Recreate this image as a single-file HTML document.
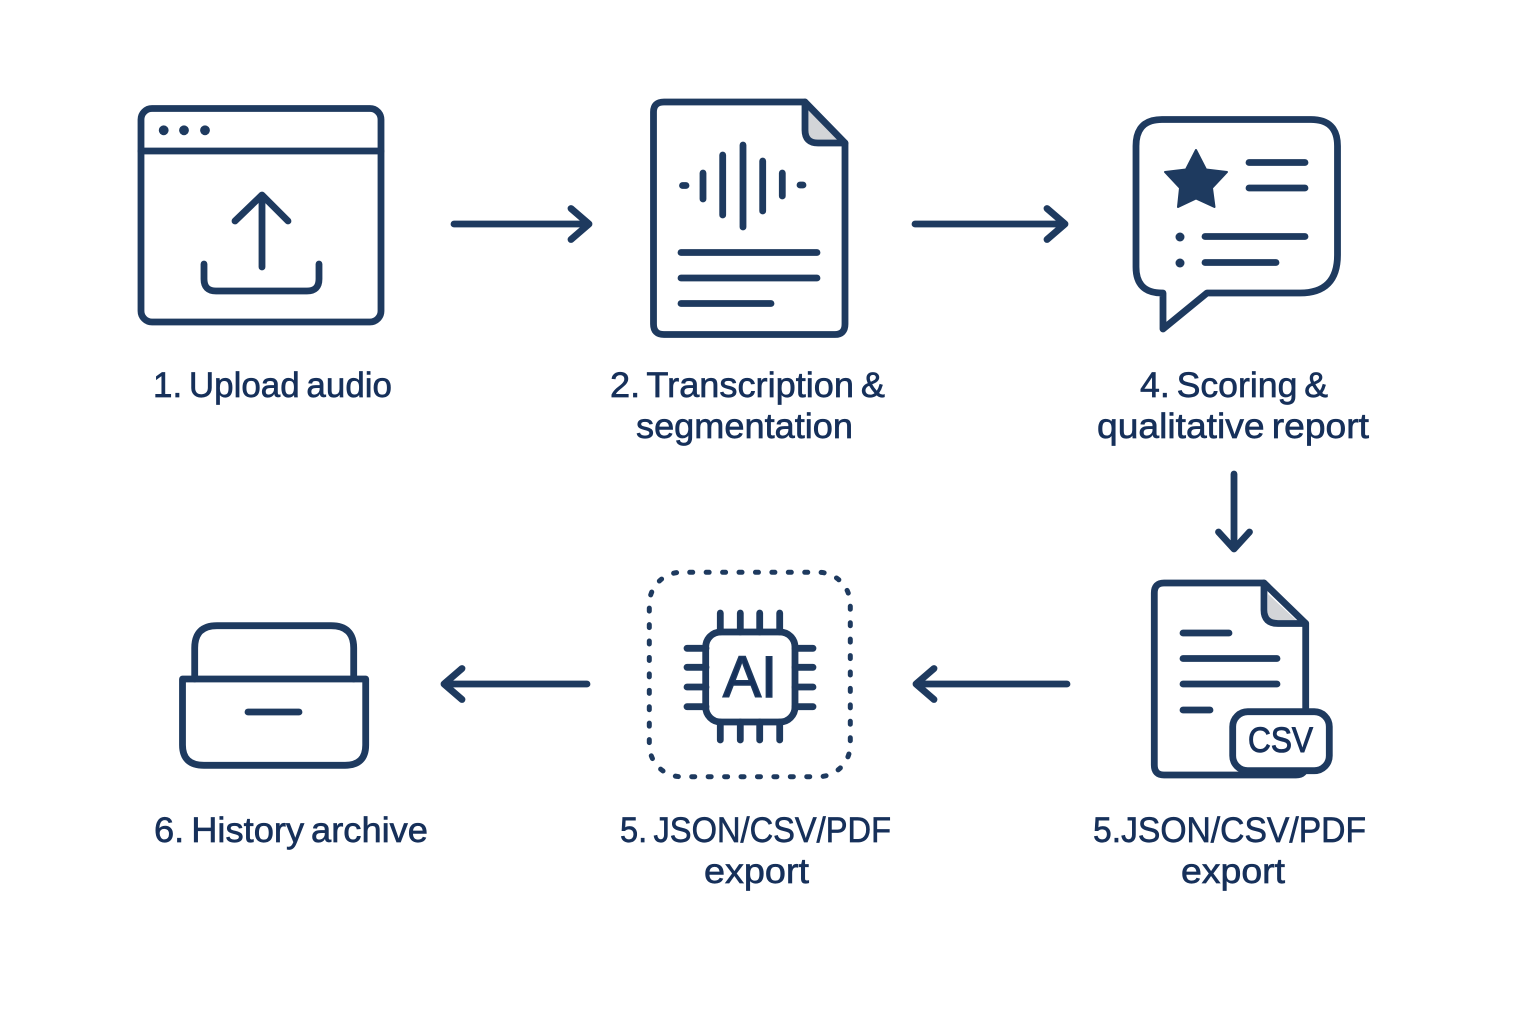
<!DOCTYPE html>
<html><head><meta charset="utf-8"><style>
html,body{margin:0;padding:0;background:#fff}
svg{display:block}
text{font-family:"Liberation Sans",sans-serif;fill:#16305a}
.t{font-size:35px;word-spacing:-3px;stroke:#16305a;stroke-width:.65px}
.s{fill:none;stroke:#1e3a5f;stroke-width:6.8;stroke-linecap:round;stroke-linejoin:round}
</style></head><body>
<svg width="1536" height="1024" viewBox="0 0 1536 1024" xmlns="http://www.w3.org/2000/svg">
<rect width="1536" height="1024" fill="#fff"/>
<!-- upload -->
<g class="s">
<rect x="141" y="108.500" width="240" height="213.500" rx="11"/>
<path d="M141 151H381"/>
<path d="M262 267V195M235 221L262 195L288 221"/>
<path d="M204 264V279Q204 291 216 291H307Q319 291 319 279V264"/>
</g>
<g fill="#1e3a5f"><circle cx="163.700" cy="130.300" r="4.900"/><circle cx="184" cy="130.300" r="4.900"/><circle cx="205" cy="130.300" r="4.900"/></g>
<!-- transcription doc -->
<path d="M808 108L840 142H812Q808 142 808 138Z" fill="#d3d5d8"/>
<g class="s">
<path d="M805 102H664Q653.500 102 653.500 112V324Q653.500 334.500 664 334.500H835Q845 334.500 845 324V143Z"/>
<path d="M805 102V130Q805 143 818 143H845"/>
<path d="M682.500 185.500H686M703 173V199M722.700 155V215M743 145V227M762.700 161V211M782.300 173V196M800 185H803"/>
<path d="M681 252.500H817M681 278H817M681 303.500H771"/>
</g>
<!-- report bubble -->
<g class="s">
<path d="M1163 293H1162Q1136 293 1136 267V146Q1136 119.500 1162 119.500H1311Q1337.500 119.500 1337.500 146V255Q1337.500 293 1300 293H1207L1163 329Z"/>
<path d="M1249 162.500H1305M1249 188H1305M1205 236.500H1305M1205 262.500H1276"/>
</g>
<path d="M1196 150L1206 169.500L1227 172L1212 188L1214.500 207L1196 198.500L1178 207L1180 188L1165 172L1186 169.500Z" fill="#1e3a5f" stroke="#1e3a5f" stroke-width="2" stroke-linejoin="round"/>
<g fill="#1e3a5f"><circle cx="1180" cy="237" r="4.500"/><circle cx="1180" cy="263" r="4.500"/></g>
<!-- CSV doc -->
<path d="M1268 594L1296 620H1273Q1268 620 1268 615Z" fill="#d3d5d8"/>
<g class="s">
<path d="M1264 583H1164Q1154.300 583 1154.300 593V765Q1154.300 775 1164 775H1296Q1305.700 775 1305.700 765V623.500Z"/>
<path d="M1264 583V610Q1264 623.500 1278 623.500H1305.700"/>
<path d="M1183 633H1229M1183 658.500H1277M1183 684H1277M1183 710H1210"/>
<rect x="1232.700" y="711.700" width="96.600" height="59" rx="15" fill="#fff"/>
</g>
<text x="1248" y="752" font-size="35" textLength="65" lengthAdjust="spacingAndGlyphs" stroke="#16305a" stroke-width="1">CSV</text>
<!-- AI -->
<rect x="649.300" y="572.300" width="201" height="204.400" rx="32" fill="none" stroke="#1e3a5f" stroke-width="5" stroke-linecap="round" stroke-dasharray="3 13.430" stroke-dashoffset="8"/>
<g class="s">
<rect x="705.700" y="632" width="89.300" height="90" rx="15"/>
<path d="M720.300 613V632M740.300 613V632M759.700 613V632M779.700 613V632M720.300 722V740M740.300 722V740M759.700 722V740M779.700 722V740"/>
<path d="M687 648.300H706M687 667.300H706M687 687H706M687 706.700H706M795 648.300H813M795 667.300H813M795 687H813M795 706.700H813"/>
</g>
<text x="723" y="697" font-size="58" textLength="54" lengthAdjust="spacingAndGlyphs" stroke="#1e3a5f" stroke-width="1.600">AI</text>
<!-- archive -->
<g class="s">
<path d="M194.700 679V648Q194.700 625.700 217 625.700H331Q353.700 625.700 353.700 648V679"/>
<path d="M182.500 679H365.700V745Q365.700 765.300 345 765.300H204Q182.500 765.300 182.500 745Z"/>
<path d="M248 712H299"/>
</g>
<!-- arrows -->
<g class="s">
<path d="M454 224H589M571 208.500L589 224L571 239.500"/>
<path d="M915 224H1065M1047 208.500L1065 224L1047 239.500"/>
<path d="M1234 474V549M1218.500 532L1234 549L1249.500 532"/>
<path d="M1067 684H916M934 668.500L916 684L934 699.500"/>
<path d="M587 684H444M462 668.500L444 684L462 699.500"/>
</g>
<!-- labels -->
<text class="t" x="153" y="397" textLength="239" lengthAdjust="spacingAndGlyphs">1. Upload audio</text>
<text class="t" x="610" y="397" textLength="275" lengthAdjust="spacingAndGlyphs">2. Transcription &amp;</text>
<text class="t" x="636" y="438" textLength="217" lengthAdjust="spacingAndGlyphs">segmentation</text>
<text class="t" x="1140" y="397" textLength="188" lengthAdjust="spacingAndGlyphs">4. Scoring &amp;</text>
<text class="t" x="1097" y="438" textLength="272" lengthAdjust="spacingAndGlyphs">qualitative report</text>
<text class="t" x="154" y="842" textLength="274" lengthAdjust="spacingAndGlyphs">6. History archive</text>
<text class="t" x="620" y="842" textLength="271" lengthAdjust="spacingAndGlyphs">5. JSON/CSV/PDF</text>
<text class="t" x="704" y="883" textLength="105" lengthAdjust="spacingAndGlyphs">export</text>
<text class="t" x="1093" y="842" textLength="273" lengthAdjust="spacingAndGlyphs">5.JSON/CSV/PDF</text>
<text class="t" x="1181" y="883" textLength="104" lengthAdjust="spacingAndGlyphs">export</text>
</svg>
</body></html>
